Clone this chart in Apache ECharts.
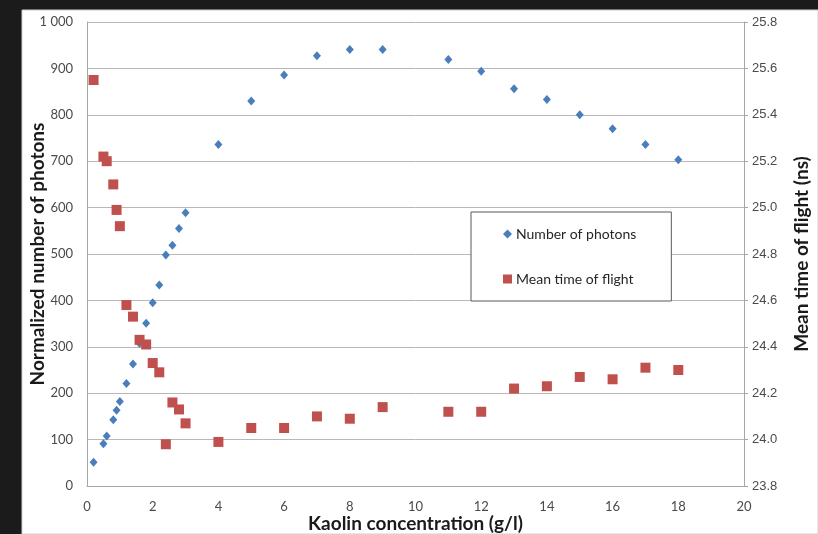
<!DOCTYPE html>
<html>
<head>
<meta charset="utf-8">
<script src="https://cdn.jsdelivr.net/npm/echarts@6/dist/echarts.min.js"></script>
<style>
  html, body { margin: 0; padding: 0; background: #1b1b1b; }
  #chart { width: 818px; height: 534px; }
</style>
</head>
<body>
<div id="chart"></div>
<script>
// Kaolin concentration (g/l) for each sample
const photonConc = [0.2, 0.5, 0.6, 0.8, 0.9, 1.0, 1.2, 1.4, 1.6, 1.8, 2.0, 2.2, 2.4, 2.6, 2.8, 3.0,
                    4, 5, 6, 7, 8, 9, 11, 12, 13, 14, 15, 16, 17, 18];
// Normalized number of photons
const photonCounts = [51, 91, 108, 143, 163, 182, 221, 263, 307, 351, 395, 433, 498, 519, 555, 589,
                      736, 830, 886, 927, 941, 941, 919, 894, 856, 833, 800, 770, 736, 703];

const tofConc = [0.2, 0.5, 0.6, 0.8, 0.9, 1.0, 1.2, 1.4, 1.6, 1.8, 2.0, 2.2, 2.4, 2.6, 2.8, 3.0,
                 4, 5, 6, 7, 8, 9, 11, 12, 13, 14, 15, 16, 17, 18];
// Mean time of flight (ns)
const tofValues = [25.55, 25.22, 25.20, 25.10, 24.99, 24.92, 24.58, 24.53, 24.43, 24.41, 24.33, 24.29,
                   23.98, 24.16, 24.13, 24.07, 23.99, 24.05, 24.05, 24.10, 24.09, 24.14, 24.12, 24.12,
                   24.22, 24.23, 24.27, 24.26, 24.31, 24.30];

const seriesNames = ['Number of photons', 'Mean time of flight'];

const pair = (xs, ys) => xs.map((x, i) => [x, ys[i]]);

const FONT = 'Lato, "Open Sans", sans-serif';
const GRID_COLOR = '#b8b8b8';
const AXIS_COLOR = '#a6a6a6';
const LABEL_COLOR = '#4a4a4a';
const BLUE = '#4a7ebb';
const RED = '#c0504d';
const TITLE_STYLE = { fontFamily: FONT, fontSize: 19, fontWeight: 'bold', color: '#1a1a1a' };

const chart = echarts.init(document.getElementById('chart'), null, { renderer: 'canvas' });

chart.setOption({
  backgroundColor: '#1b1b1b',
  animation: false,
  textStyle: { fontFamily: FONT },
  graphic: [
    {
      type: 'rect', z: -10, silent: true,
      shape: { x: 22, y: 10, width: 796, height: 524 },
      style: { fill: '#ffffff', stroke: '#d0d0d0', lineWidth: 1 }
    }
  ],
  grid: {
    left: 87, right: 74, top: 22, bottom: 48,
    containLabel: false,
    outerBoundsMode: 'none'
  },
  legend: {
    orient: 'vertical',
    left: 471, top: 212,
    padding: [15, 35, 15, 32],
    itemGap: 31,
    itemWidth: 9, itemHeight: 9,
    backgroundColor: '#ffffff',
    borderColor: '#595959', borderWidth: 1, borderRadius: 0,
    textStyle: { fontFamily: FONT, fontSize: 14, color: '#262626', padding: [0, 0, 0, -1] },
    data: [
      { name: seriesNames[0], icon: 'diamond', itemStyle: { color: BLUE, opacity: 1 } },
      { name: seriesNames[1], icon: 'rect', itemStyle: { color: RED, opacity: 1 } }
    ]
  },
  xAxis: {
    type: 'value', min: 0, max: 20, interval: 2,
    name: 'Kaolin concentration (g/l)',
    nameLocation: 'middle', nameGap: 28, nameMoveOverlap: false,
    nameTextStyle: TITLE_STYLE,
    axisLine: { show: true, lineStyle: { color: AXIS_COLOR } },
    axisTick: { show: false },
    axisLabel: { fontSize: 13, color: LABEL_COLOR, margin: 14 },
    splitLine: { show: false }
  },
  yAxis: [
    {
      type: 'value', min: 0, max: 1000, interval: 100,
      name: 'Normalized number of photons',
      nameLocation: 'middle', nameGap: 40, nameMoveOverlap: false,
      nameTextStyle: TITLE_STYLE,
      axisLine: { show: true, lineStyle: { color: AXIS_COLOR } },
      axisTick: { show: false },
      axisLabel: {
        fontSize: 13, color: LABEL_COLOR, margin: 14,
        formatter: v => String(v).replace(/\B(?=(\d{3})+(?!\d))/g, ' ')
      },
      splitLine: { show: true, lineStyle: { color: GRID_COLOR, width: 1 } }
    },
    {
      type: 'value', min: 23.8, max: 25.8, interval: 0.2,
      position: 'right',
      name: 'Mean time of flight (ns)',
      nameLocation: 'middle', nameGap: 48, nameRotate: 90, nameMoveOverlap: false,
      nameTextStyle: TITLE_STYLE,
      axisLine: { show: true, lineStyle: { color: AXIS_COLOR } },
      axisTick: { show: true, length: 4, inside: false, lineStyle: { color: AXIS_COLOR } },
      axisLabel: {
        fontFamily: '"Liberation Sans", Arial, sans-serif',
        fontSize: 13, color: LABEL_COLOR, margin: 8,
        formatter: v => v.toFixed(1)
      },
      splitLine: { show: false }
    }
  ],
  series: [
    {
      name: seriesNames[0],
      type: 'scatter',
      yAxisIndex: 0,
      symbol: 'diamond',
      symbolSize: [8, 9],
      itemStyle: { color: BLUE, opacity: 1 },
      z: 2,
      data: pair(photonConc, photonCounts)
    },
    {
      name: seriesNames[1],
      type: 'scatter',
      yAxisIndex: 1,
      symbol: 'rect',
      symbolSize: 10,
      itemStyle: { color: RED, opacity: 1 },
      z: 3,
      data: pair(tofConc, tofValues)
    }
  ]
});
</script>
</body>
</html>
